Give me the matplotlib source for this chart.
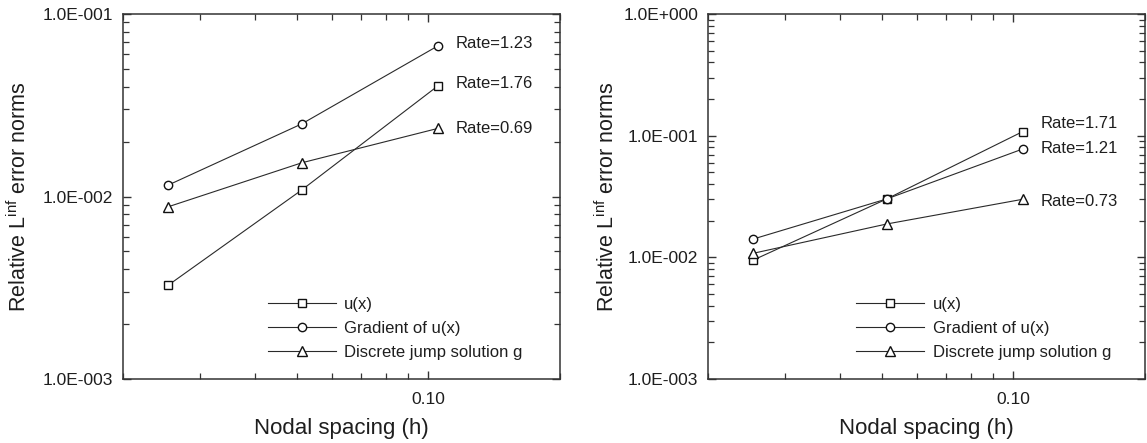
import math

import matplotlib

matplotlib.use("Agg")
import matplotlib.pyplot as plt
from matplotlib.ticker import LogLocator, FuncFormatter, NullFormatter

plt.rcParams["font.family"] = ["Liberation Sans", "DejaVu Sans"]
plt.rcParams["mathtext.fontset"] = "custom"
plt.rcParams["mathtext.rm"] = "Liberation Sans"

TEXT = "#1e1e1e"
LINE = "#2a2a2a"

# nodal spacing (shared by both panels)
h = [0.0254, 0.0513, 0.105]

# left panel
left_u = [0.00327, 0.01086, 0.0403]
left_grad = [0.01156, 0.0250, 0.0668]
left_jump = [0.00879, 0.0153, 0.0236]
left_rates = {"u": "1.76", "grad": "1.23", "jump": "0.69"}

# right panel
right_u = [0.0095, 0.0302, 0.108]
right_grad = [0.01415, 0.0302, 0.0777]
right_jump = [0.0108, 0.0188, 0.0300]
right_rates = {"u": "1.71", "grad": "1.21", "jump": "0.73"}

labels = ["u(x)", "Gradient of u(x)", "Discrete jump solution g"]


def sci_fmt(v, pos):
    e = int(round(math.log10(v)))
    return f"1.0E{e:+04d}"


def draw_panel(ax, u, grad, jump, rates, ylim, rate_dy, leg_x):
    series = [("u", u, "s", 6.0), ("grad", grad, "o", 6.0), ("jump", jump, "^", 6.5)]
    for (key, vals, mk, ms), lab in zip(series, labels):
        ax.plot(h, vals, color=LINE, lw=0.8, marker=mk, ms=ms, mfc="white",
                mec="#111111", mew=1.0, label=lab)
        ax.annotate(f"Rate={rates[key]}", xy=(h[-1], vals[-1]),
                    xytext=(13, rate_dy[key]), textcoords="offset points",
                    va="center", ha="left", fontsize=12, color=TEXT)

    ax.set_xscale("log")
    ax.set_yscale("log")
    ax.set_xlim(0.02, 0.2)
    ax.set_ylim(*ylim)

    ax.xaxis.set_major_locator(LogLocator(base=10))
    ax.xaxis.set_minor_locator(LogLocator(base=10, subs=range(2, 10)))
    ax.xaxis.set_major_formatter(FuncFormatter(lambda v, p: f"{v:.2f}"))
    ax.xaxis.set_minor_formatter(NullFormatter())
    ax.yaxis.set_major_locator(LogLocator(base=10))
    ax.yaxis.set_minor_locator(LogLocator(base=10, subs=range(2, 10)))
    ax.yaxis.set_major_formatter(FuncFormatter(sci_fmt))
    ax.yaxis.set_minor_formatter(NullFormatter())

    ax.tick_params(which="both", direction="in", top=True, right=True,
                   colors="#333333", labelcolor=TEXT, labelsize=12.5, pad=7)
    ax.tick_params(which="major", length=6, width=1.0)
    ax.tick_params(which="minor", length=4, width=0.9)
    ax.tick_params(axis="x", which="major", pad=9)
    for sp in ax.spines.values():
        sp.set_color("#333333")
        sp.set_linewidth(1.1)

    ax.set_xlabel("Nodal spacing (h)", fontsize=16, color=TEXT, labelpad=8)
    ax.set_ylabel(r"Relative L$^{\mathregular{inf}}$ error norms", fontsize=15.5, color=TEXT)

    leg = ax.legend(loc="lower left", bbox_to_anchor=(leg_x, 0.02), frameon=False,
                    fontsize=12, handlelength=4.1, handletextpad=0.5,
                    labelspacing=0.55, borderpad=0.2)
    for t in leg.get_texts():
        t.set_color(TEXT)


fig = plt.figure(figsize=(11.47, 4.43), dpi=100)
ax1 = fig.add_axes([123 / 1147, 64 / 443, 437 / 1147, 365 / 443])
ax2 = fig.add_axes([708 / 1147, 64 / 443, 437 / 1147, 365 / 443])

draw_panel(ax1, left_u, left_grad, left_jump, left_rates, (1e-3, 1e-1),
           {"u": 2, "grad": 2, "jump": 0}, 0.304)
draw_panel(ax2, right_u, right_grad, right_jump, right_rates, (1e-3, 1.0),
           {"u": 6, "grad": 0, "jump": -1.5}, 0.312)

ax1.yaxis.set_label_coords(-0.21, 0.5)
ax2.yaxis.set_label_coords(-0.204, 0.5)

fig.savefig("out.png", dpi=100)
